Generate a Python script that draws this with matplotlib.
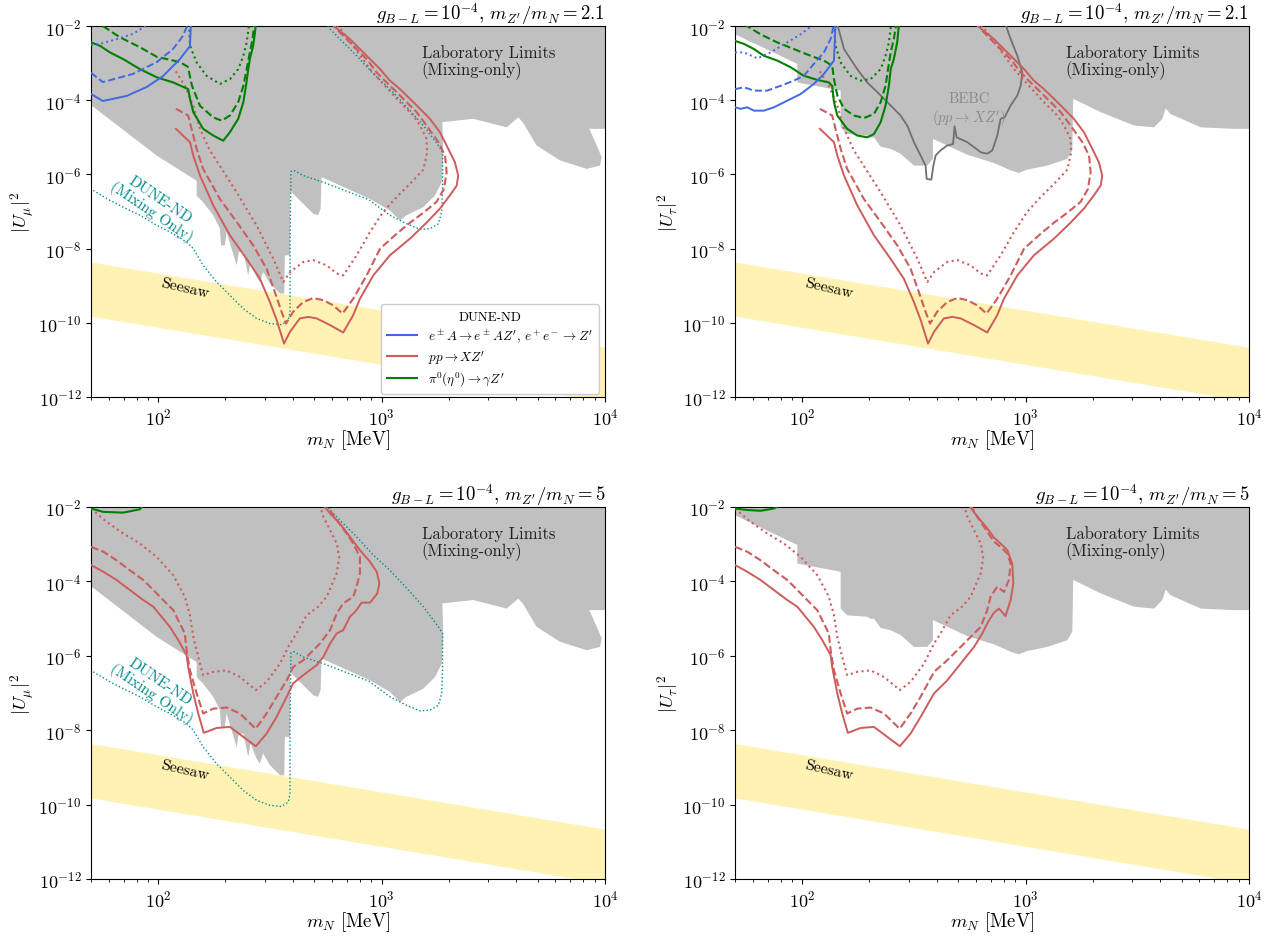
import numpy as np
import matplotlib
matplotlib.use('Agg')
import matplotlib.pyplot as plt
from matplotlib.lines import Line2D
from matplotlib.ticker import LogLocator, NullLocator, NullFormatter

plt.rcParams['font.family'] = 'serif'
plt.rcParams['font.serif'] = ['cmr10', 'DejaVu Serif']
plt.rcParams['mathtext.fontset'] = 'cm'
plt.rcParams['axes.formatter.use_mathtext'] = True
plt.rcParams['axes.unicode_minus'] = False

# ---------------- data (log10 of m_N [MeV], log10 of |U|^2) ----------------
# Laboratory limits, muon mixing (lower boundary of excluded region)
lab_mu_logm = [1.699, 1.993, 2.172, 2.172, 2.201, 2.246, 2.276, 2.281, 2.298, 2.306, 2.351, 2.361,
               2.381, 2.403, 2.413, 2.440, 2.455, 2.470, 2.500, 2.545, 2.564, 2.567, 2.590, 2.590,
               2.597, 2.649, 2.694, 2.716, 2.727, 2.731, 2.948, 3.037, 3.082, 3.112, 3.187, 3.239,
               3.269, 3.276, 3.272, 3.410, 3.560, 3.612, 3.634, 3.694, 3.798, 3.918, 3.978, 3.985,
               3.963, 3.930, 4.0]
lab_mu_logU = [-4.13, -5.49, -6.17, -6.57, -6.75, -7.10, -7.46, -7.91, -7.91, -7.55, -8.45, -8.09,
               -8.09, -8.72, -8.36, -8.76, -8.90, -8.63, -8.94, -9.21, -9.21, -8.18, -8.18, -6.48,
               -6.48, -6.79, -7.06, -7.10, -6.92, -6.07, -6.66, -6.97, -7.24, -7.10, -6.88, -6.57,
               -6.21, -5.49, -4.59, -4.50, -4.73, -4.46, -4.61, -5.22, -5.62, -5.85, -5.76, -5.53,
               -5.22, -4.77, -4.77]
# Laboratory limits, tau mixing
lab_tau_logm = [1.699, 1.978, 1.978, 2.172, 2.172, 2.201, 2.291, 2.306, 2.321, 2.351, 2.395, 2.440,
                2.500, 2.560, 2.585, 2.585, 2.739, 2.858, 2.933, 2.970, 3.007, 3.097, 3.187, 3.209,
                3.213, 3.336, 3.485, 3.575, 3.612, 3.627, 3.649, 3.784, 3.933, 4.0]
lab_tau_logU = [-2.22, -3.02, -3.52, -3.74, -4.73, -4.91, -4.95, -5.01, -5.00, -5.25, -5.31, -5.44,
                -5.76, -5.76, -5.58, -5.04, -5.47, -5.69, -5.89, -5.96, -5.87, -5.76, -5.58, -5.35,
                -3.96, -4.32, -4.68, -4.73, -4.50, -4.22, -4.37, -4.73, -4.77, -4.77]

# Seesaw band
seesaw_m = [50.0, 1.0e4]
seesaw_hi_logU = [-8.36, -10.66]
seesaw_lo_logU = [-9.82, -12.12]

# pp -> X Z', m_Z'/m_N = 2.1
pp21_solid_logm = [2.079, 2.142, 2.157, 2.187, 2.246, 2.321, 2.395, 2.455, 2.500, 2.530, 2.563, 2.590,
                   2.634, 2.672, 2.709, 2.769, 2.828, 2.873, 2.903, 2.963, 3.037, 3.127, 3.201, 3.261,
                   3.306, 3.336, 3.343, 3.328, 3.291, 3.261, 3.216, 3.172, 3.127, 3.082, 3.037, 2.993,
                   2.948, 2.903, 2.858, 2.813, 2.776]
pp21_solid_logU = [-4.77, -5.13, -5.49, -6.03, -6.83, -7.64, -8.27, -8.81, -9.44, -9.92, -10.56, -10.24,
                   -9.88, -9.84, -9.88, -10.06, -10.26, -9.79, -9.35, -8.72, -8.18, -7.73, -7.30, -6.92,
                   -6.56, -6.30, -6.03, -5.67, -5.22, -4.86, -4.50, -4.23, -3.96, -3.70, -3.47, -3.16,
                   -2.89, -2.62, -2.35, -2.13, -1.95]
pp21_dash_logm = [2.079, 2.134, 2.149, 2.172, 2.201, 2.276, 2.351, 2.425, 2.485, 2.522, 2.552, 2.572,
                  2.604, 2.649, 2.694, 2.739, 2.784, 2.825, 2.873, 2.933, 2.993, 3.067, 3.127, 3.187,
                  3.246, 3.279, 3.291, 3.284, 3.254, 3.201, 3.157, 3.112, 3.067, 3.022, 2.978, 2.933,
                  2.888, 2.843, 2.799, 2.784]
pp21_dash_logU = [-4.23, -4.41, -4.77, -5.31, -5.85, -6.66, -7.28, -7.91, -8.54, -9.17, -9.70, -10.02,
                  -9.70, -9.44, -9.33, -9.39, -9.53, -9.75, -9.35, -8.72, -8.00, -7.60, -7.30, -7.03,
                  -6.74, -6.39, -5.94, -5.49, -5.13, -4.68, -4.32, -4.05, -3.78, -3.52, -3.25, -2.89,
                  -2.62, -2.35, -2.08, -1.95]
pp21_dot_logm = [2.079, 2.119, 2.157, 2.187, 2.231, 2.351, 2.440, 2.515, 2.560, 2.590, 2.649, 2.694,
                 2.754, 2.799, 2.828, 2.888, 2.948, 3.007, 3.067, 3.134, 3.187, 3.204, 3.201, 3.172,
                 3.142, 3.082, 3.007, 2.948, 2.888, 2.828, 2.799]
pp21_dot_logU = [-3.22, -3.61, -4.14, -4.77, -5.35, -6.48, -7.37, -8.27, -8.90, -8.63, -8.36, -8.31,
                 -8.45, -8.67, -8.72, -8.18, -7.55, -7.01, -6.61, -6.21, -5.87, -5.40, -5.04, -4.68,
                 -4.41, -4.05, -3.56, -3.16, -2.66, -2.17, -1.95]

# pp -> X Z', m_Z'/m_N = 5  (muon panel)
pp5_solid_mu_logm = [1.699, 1.754, 1.813, 1.873, 1.933, 1.978, 2.015, 2.052, 2.090, 2.127, 2.134, 2.157,
                     2.179, 2.204, 2.261, 2.321, 2.381, 2.437, 2.485, 2.530, 2.575, 2.604, 2.649, 2.709,
                     2.739, 2.769, 2.799, 2.828, 2.858, 2.888, 2.910, 2.948, 2.981, 2.990, 2.978, 2.948,
                     2.903, 2.858, 2.813, 2.769, 2.739]
pp5_solid_mu_logU = [-3.56, -3.74, -3.96, -4.23, -4.50, -4.68, -4.95, -5.22, -5.58, -5.98, -6.30, -7.01,
                     -7.55, -8.07, -7.94, -7.91, -8.18, -8.43, -8.09, -7.64, -7.10, -6.74, -6.52, -6.25,
                     -6.03, -5.67, -5.40, -5.31, -4.95, -4.77, -4.57, -4.57, -4.32, -4.05, -3.74, -3.47,
                     -3.16, -2.80, -2.44, -2.17, -1.95]
pp5_dash_mu_logm = [1.699, 1.754, 1.813, 1.873, 1.933, 1.978, 2.022, 2.067, 2.119, 2.127, 2.142, 2.172,
                    2.201, 2.246, 2.306, 2.366, 2.436, 2.485, 2.530, 2.575, 2.604, 2.649, 2.724, 2.769,
                    2.799, 2.828, 2.873, 2.888, 2.903, 2.903, 2.873, 2.843, 2.799, 2.754]
pp5_dash_mu_logU = [-3.07, -3.20, -3.43, -3.70, -3.96, -4.23, -4.50, -4.77, -5.40, -5.85, -6.39, -7.01,
                    -7.55, -7.42, -7.39, -7.55, -7.96, -7.55, -7.10, -6.66, -6.30, -6.12, -5.67, -5.31,
                    -4.86, -4.59, -4.41, -4.14, -3.78, -3.34, -2.98, -2.71, -2.35, -1.95]
# m_Z'/m_N = 5 (tau panel)
pp5_solid_tau_logm = pp5_solid_mu_logm[:19] + [2.530, 2.590, 2.649, 2.709, 2.769, 2.806, 2.828, 2.858,
                                               2.881, 2.910, 2.933, 2.945, 2.940, 2.918, 2.888, 2.858,
                                               2.828, 2.784, 2.746]
pp5_solid_tau_logU = pp5_solid_mu_logU[:19] + [-7.64, -7.01, -6.66, -6.21, -5.76, -5.40, -5.13, -4.84,
                                               -4.73, -4.93, -4.50, -4.05, -3.52, -3.16, -2.98, -2.82,
                                               -2.57, -2.26, -1.95]
pp5_dash_tau_logm = pp5_dash_mu_logm[:18] + [2.530, 2.590, 2.649, 2.709, 2.769, 2.799, 2.828, 2.843,
                                             2.873, 2.903, 2.925, 2.933, 2.918, 2.888, 2.858, 2.828,
                                             2.784, 2.754]
pp5_dash_tau_logU = pp5_dash_mu_logU[:18] + [-7.10, -6.43, -6.12, -5.76, -5.40, -5.22, -4.77, -4.41,
                                             -4.14, -4.28, -3.96, -3.52, -3.25, -3.07, -2.93, -2.66,
                                             -2.26, -1.95]
pp5_dot_logm = [1.699, 1.769, 1.843, 1.918, 1.993, 2.067, 2.119, 2.142, 2.157, 2.179, 2.201, 2.246,
                2.306, 2.366, 2.437, 2.485, 2.545, 2.590, 2.619, 2.664, 2.716, 2.754, 2.799, 2.810,
                2.799, 2.769, 2.739, 2.724]
pp5_dot_logU = [-2.04, -2.40, -2.71, -2.98, -3.34, -3.83, -4.41, -4.91, -5.49, -6.03, -6.52, -6.43,
                -6.39, -6.57, -6.92, -6.70, -6.21, -5.67, -5.40, -4.91, -4.68, -4.41, -3.78, -3.34,
                -2.98, -2.62, -2.26, -1.95]

# pi0(eta0) -> gamma Z', m_Z'/m_N = 2.1, muon
pi_mu_solid_logm = [1.699, 1.739, 1.784, 1.843, 1.918, 1.993, 2.067, 2.134, 2.142, 2.157, 2.201, 2.246,
                    2.291, 2.321, 2.358, 2.381, 2.395, 2.403, 2.410, 2.425, 2.433, 2.437]
pi_mu_solid_logU = [-2.44, -2.53, -2.71, -2.89, -3.16, -3.38, -3.52, -3.70, -3.96, -4.32, -4.77, -4.95,
                    -5.09, -4.86, -4.50, -4.05, -3.52, -3.16, -2.89, -2.53, -2.17, -1.95]
pi_mu_dash_logm = [1.752, 1.828, 1.918, 1.994, 2.097, 2.133, 2.151, 2.187, 2.246, 2.284, 2.321, 2.358,
                   2.381, 2.396, 2.410, 2.422, 2.430]
pi_mu_dash_logU = [-2.00, -2.30, -2.57, -2.83, -2.97, -3.10, -3.61, -4.15, -4.46, -4.55, -4.41, -4.05,
                   -3.61, -3.16, -2.71, -2.35, -1.95]
pi_mu_dot_logm = [2.139, 2.142, 2.172, 2.216, 2.276, 2.321, 2.358, 2.381, 2.396, 2.407]
pi_mu_dot_logU = [-1.95, -2.53, -2.98, -3.34, -3.56, -3.43, -3.16, -2.80, -2.44, -1.95]
# tau
pi_tau_solid_logm = [1.699, 1.739, 1.784, 1.828, 1.888, 1.948, 2.007, 2.067, 2.119, 2.134, 2.142, 2.157,
                     2.201, 2.246, 2.291, 2.321, 2.351, 2.373, 2.388, 2.396, 2.410, 2.425, 2.433]
pi_tau_solid_logU = [-2.40, -2.48, -2.62, -2.80, -2.93, -3.11, -3.34, -3.45, -3.52, -3.61, -4.05, -4.41,
                     -4.77, -4.95, -5.00, -4.91, -4.59, -4.14, -3.61, -3.16, -2.89, -2.44, -1.95]
pi_tau_dash_logm = [1.739, 1.813, 1.888, 1.963, 2.037, 2.097, 2.134, 2.142, 2.157, 2.187, 2.231, 2.276,
                    2.321, 2.351, 2.373, 2.384, 2.396, 2.410, 2.421]
pi_tau_dash_logU = [-1.95, -2.22, -2.44, -2.62, -2.80, -2.93, -3.07, -3.43, -3.87, -4.23, -4.41, -4.48,
                    -4.37, -4.05, -3.61, -3.16, -2.71, -2.35, -1.95]
pi_tau_dot_logm = [2.142, 2.149, 2.172, 2.216, 2.261, 2.306, 2.351, 2.373, 2.388, 2.398]
pi_tau_dot_logU = [-1.95, -2.53, -2.98, -3.34, -3.47, -3.43, -3.16, -2.80, -2.44, -1.95]
# m_Z'/m_N = 5 (only visible corner)
pi5_mu_logm = [1.699, 1.754, 1.843, 1.918, 1.933]
pi5_mu_logU = [-2.04, -2.13, -2.15, -2.06, -1.95]
pi5_tau_logm = [1.699, 1.754, 1.813, 1.873, 1.903]
pi5_tau_logU = [-2.04, -2.08, -2.10, -2.04, -1.95]

# e A -> e A Z', e+e- -> Z'
ee_mu_solid_logm = [1.699, 1.752, 1.860, 1.949, 2.021, 2.097, 2.142, 2.146]
ee_mu_solid_logU = [-3.83, -4.02, -3.88, -3.64, -3.35, -2.89, -2.54, -1.95]
ee_mu_dash_logm = [1.699, 1.752, 1.887, 1.994, 2.066, 2.110, 2.133]
ee_mu_dash_logU = [-3.26, -3.51, -3.29, -2.97, -2.62, -2.27, -1.95]
ee_mu_dot_logm = [1.699, 1.739, 1.815, 1.887, 1.955]
ee_mu_dot_logU = [-2.51, -2.48, -2.35, -2.21, -1.95]
ee_tau_solid_logm = [1.699, 1.724, 1.754, 1.784, 1.828, 1.873, 1.933, 1.993, 2.052, 2.097, 2.142, 2.146, 2.149]
ee_tau_solid_logU = [-4.19, -4.23, -4.19, -4.28, -4.28, -4.19, -4.01, -3.83, -3.56, -3.29, -2.93, -2.35, -1.95]
ee_tau_dash_logm = [1.699, 1.739, 1.784, 1.843, 1.903, 1.963, 2.007, 2.052, 2.097, 2.127, 2.142]
ee_tau_dash_logU = [-3.70, -3.65, -3.74, -3.74, -3.61, -3.47, -3.34, -3.02, -2.71, -2.35, -1.95]
ee_tau_dot_logm = [1.699, 1.739, 1.799, 1.858, 1.933, 1.993, 2.052]
ee_tau_dot_logU = [-2.71, -2.71, -2.87, -2.71, -2.44, -2.22, -1.95]

# BEBC (pp -> X Z') limit, tau
bebc_logm = [2.157, 2.187, 2.246, 2.291, 2.336, 2.396, 2.440, 2.470, 2.500, 2.530, 2.552, 2.557, 2.578,
             2.587, 2.597, 2.619, 2.649, 2.675, 2.682, 2.691, 2.739, 2.799, 2.828, 2.851, 2.873, 2.888,
             2.906, 2.933, 2.963, 2.978, 2.985, 2.963, 2.933, 2.910]
bebc_logU = [-1.95, -2.62, -3.16, -3.52, -3.78, -4.14, -4.41, -4.68, -5.13, -5.49, -5.76, -6.12, -6.14,
             -5.76, -5.49, -5.35, -5.22, -5.18, -4.70, -5.00, -5.13, -5.40, -5.44, -5.35, -4.95, -4.50,
             -4.46, -4.14, -3.87, -3.61, -3.25, -2.80, -2.35, -1.95]

# DUNE-ND mixing only (muon)
dune_mix_logm = [1.709, 1.784, 1.843, 1.918, 1.993, 2.052, 2.127, 2.157, 2.201, 2.261, 2.321, 2.381,
                 2.440, 2.500, 2.552, 2.582, 2.590, 2.590, 2.594, 2.607, 2.649, 2.739, 2.943, 3.037,
                 3.112, 3.172, 3.216, 3.254, 3.269, 3.273, 3.273, 3.254, 3.187, 3.112, 3.037, 2.963,
                 2.888, 2.828, 2.769, 2.754]
dune_mix_logU = [-6.43, -6.70, -6.88, -7.10, -7.37, -7.55, -7.82, -8.00, -8.45, -8.90, -9.26, -9.62,
                 -9.88, -10.02, -10.05, -9.93, -9.70, -8.09, -5.92, -5.89, -6.03, -6.21, -6.68, -7.10,
                 -7.33, -7.48, -7.46, -7.33, -7.01, -6.30, -5.40, -5.22, -4.68, -4.18, -3.70, -3.29,
                 -2.80, -2.44, -2.08, -1.95]

titles = [r'$g_{B-L} = 10^{-4}$, $m_{Z^\prime}/m_N = 2.1$', r'$g_{B-L} = 10^{-4}$, $m_{Z^\prime}/m_N = 2.1$',
          r'$g_{B-L} = 10^{-4}$, $m_{Z^\prime}/m_N = 5$', r'$g_{B-L} = 10^{-4}$, $m_{Z^\prime}/m_N = 5$']
ylabels = [r'$|U_\mu|^2$', r'$|U_\tau|^2$', r'$|U_\mu|^2$', r'$|U_\tau|^2$']
legend_labels = [r'$e^\pm A\to e^\pm AZ^\prime$, $e^+e^-\to Z^\prime$', r'$pp\to XZ^\prime$',
                 r'$\pi^0(\eta^0)\to\gamma Z^\prime$']

# ---------------- styles ----------------
C_RED = '#cd5c5c'
C_GREEN = '#008000'
C_BLUE = '#4169e1'
C_TEAL = '#008b8b'
C_GREY = '#c0c0c0'
C_YEL = '#fff2b2'
C_BEBC = '#707070'


def T(a):
    return 10.0 ** np.asarray(a, dtype=float)


fig = plt.figure(figsize=(12.81, 9.37), dpi=100)
W = 514 / 1281
positions = [[91 / 1281, 0.5752, W, 0.3959], [735 / 1281, 0.5752, W, 0.3959],
             [91 / 1281, 0.0608, W, 0.3970], [735 / 1281, 0.0608, W, 0.3970]]

for i, pos in enumerate(positions):
    ax = fig.add_axes(pos)
    ax.set_xscale('log')
    ax.set_yscale('log')
    is_mu = i in (0, 2)
    top = i in (0, 1)

    # seesaw band
    ax.fill_between(seesaw_m, T(seesaw_lo_logU), T(seesaw_hi_logU), color=C_YEL, lw=0, zorder=1)

    # lab limits
    if is_mu:
        lm, lu = lab_mu_logm, lab_mu_logU
    else:
        lm, lu = lab_tau_logm, lab_tau_logU
    px = list(T(lm)) + [1e4, 50.0]
    py = list(T(lu)) + [1e-2, 1e-2]
    ax.fill(px, py, color=C_GREY, lw=0, zorder=2)

    # DUNE-ND mixing only
    if is_mu:
        ax.plot(T(dune_mix_logm), T(dune_mix_logU), color=C_TEAL, ls=':', lw=1.0, zorder=3)
        ax.text(97, 10 ** -6.85, 'DUNE-ND\n(Mixing Only)', color=C_TEAL, fontsize=11,
                rotation=-34, ha='center', va='center', linespacing=0.95,
                rotation_mode='anchor', zorder=6)

    if not is_mu and top:
        ax.plot(T(bebc_logm), T(bebc_logU), color=C_BEBC, lw=1.3, zorder=3)
        ax.text(557, 10 ** -4.23, 'BEBC\n' + r'$(pp\to XZ^\prime)$', color='#8a8a8a', fontsize=10.5,
                ha='center', va='center', linespacing=1.15, zorder=6)

    # pp -> XZ'
    if top:
        sets = [(pp21_solid_logm, pp21_solid_logU, '-'), (pp21_dash_logm, pp21_dash_logU, '--'),
                (pp21_dot_logm, pp21_dot_logU, ':')]
    elif is_mu:
        sets = [(pp5_solid_mu_logm, pp5_solid_mu_logU, '-'), (pp5_dash_mu_logm, pp5_dash_mu_logU, '--'),
                (pp5_dot_logm, pp5_dot_logU, ':')]
    else:
        sets = [(pp5_solid_tau_logm, pp5_solid_tau_logU, '-'), (pp5_dash_tau_logm, pp5_dash_tau_logU, '--'),
                (pp5_dot_logm, pp5_dot_logU, ':')]
    for xm, yu, ls in sets:
        ax.plot(T(xm), T(yu), color=C_RED, ls=ls, lw=1.5 if ls != '-' else 1.4, zorder=4)

    # pi0 and e+e- channels
    if top:
        if is_mu:
            g = [(pi_mu_solid_logm, pi_mu_solid_logU, '-'), (pi_mu_dash_logm, pi_mu_dash_logU, '--'),
                 (pi_mu_dot_logm, pi_mu_dot_logU, ':')]
            b = [(ee_mu_solid_logm, ee_mu_solid_logU, '-'), (ee_mu_dash_logm, ee_mu_dash_logU, '--'),
                 (ee_mu_dot_logm, ee_mu_dot_logU, ':')]
        else:
            g = [(pi_tau_solid_logm, pi_tau_solid_logU, '-'), (pi_tau_dash_logm, pi_tau_dash_logU, '--'),
                 (pi_tau_dot_logm, pi_tau_dot_logU, ':')]
            b = [(ee_tau_solid_logm, ee_tau_solid_logU, '-'), (ee_tau_dash_logm, ee_tau_dash_logU, '--'),
                 (ee_tau_dot_logm, ee_tau_dot_logU, ':')]
        for xm, yu, ls in g:
            ax.plot(T(xm), T(yu), color=C_GREEN, ls=ls, lw=1.5, zorder=4)
        for xm, yu, ls in b:
            ax.plot(T(xm), T(yu), color=C_BLUE, ls=ls, lw=1.4, zorder=4)
    else:
        if is_mu:
            ax.plot(T(pi5_mu_logm), T(pi5_mu_logU), color=C_GREEN, lw=1.5, zorder=4)
        else:
            ax.plot(T(pi5_tau_logm), T(pi5_tau_logU), color=C_GREEN, lw=1.5, zorder=4)

    # annotations
    ax.text(1510, 10 ** -2.95, 'Laboratory Limits\n(Mixing-only)', fontsize=12, ha='left',
            va='center', linespacing=1.05, color='#222222', zorder=6)
    ax.text(132, 10 ** -9.05, 'Seesaw', fontsize=11.5, rotation=-13, ha='center', va='center',
            rotation_mode='anchor', zorder=6)

    ax.set_xlim(50, 1e4)
    ax.set_ylim(1e-12, 1e-2)
    ax.set_yticks([1e-12, 1e-10, 1e-8, 1e-6, 1e-4, 1e-2])
    ax.yaxis.set_minor_locator(NullLocator())
    ax.xaxis.set_major_locator(LogLocator(base=10, numticks=10))
    ax.xaxis.set_minor_locator(LogLocator(base=10, subs=np.arange(2, 10), numticks=20))
    ax.xaxis.set_minor_formatter(NullFormatter())
    ax.tick_params(labelsize=13)
    ax.set_xlabel(r'$m_N$ [MeV]', fontsize=13.5, labelpad=0)
    ax.set_ylabel(ylabels[i], fontsize=13.5, labelpad=2)
    ax.set_title(titles[i], loc='right', fontsize=13.5, pad=4)

    if i == 0:
        handles = [Line2D([], [], color=C_BLUE, lw=1.5), Line2D([], [], color=C_RED, lw=1.5),
                   Line2D([], [], color=C_GREEN, lw=1.5)]
        leg = ax.legend(handles, legend_labels, title='DUNE-ND', loc='lower right',
                        bbox_to_anchor=(0.988, 0.008), borderaxespad=0, fontsize=9.5,
                        title_fontsize=9.5, framealpha=1.0, edgecolor='#cccccc', fancybox=True,
                        labelspacing=0.3, handlelength=2.3, borderpad=0.45)
        leg.set_zorder(10)

fig.savefig('out.png', dpi=100)
